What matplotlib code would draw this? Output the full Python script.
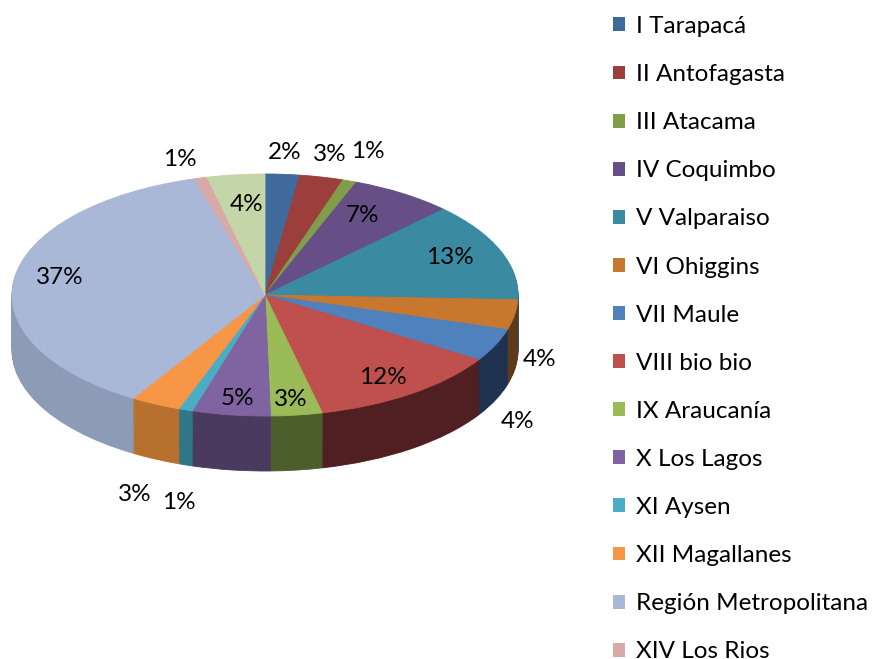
import matplotlib
matplotlib.use("Agg")
import matplotlib.pyplot as plt
import numpy as np
from matplotlib.patches import Patch

plt.rcParams['font.family'] = ['Lato', 'DejaVu Sans']

categories = ["I Tarapacá", "II Antofagasta", "III Atacama", "IV Coquimbo",
              "V Valparaiso", "VI Ohiggins", "VII Maule", "VIII bio bio",
              "IX Araucanía", "X Los Lagos", "XI Aysen", "XII Magallanes",
              "Región Metropolitana", "XIV Los Rios", "XV Arica y Parinacota"]
values = [2.2, 2.8, 0.9, 6.6, 13.2, 4.0, 4.4, 12.4, 3.3, 5.0, 0.9, 3.2, 36.9, 0.8, 3.7]

top_colors = ["#3f6a9b", "#9c3e3b", "#809e49", "#664f86", "#3a8aa1", "#c8772f",
              "#4f81bd", "#c0504d", "#9bbb59", "#8064a2", "#4bacc6", "#f79646",
              "#a9b8d7", "#d9a9a8", "#c4d5a7"]
side_colors = ["#2a4468", "#6b2a28", "#55682f", "#45355a", "#275d6c", "#5e3a1c",
               "#1f3350", "#4f1f21", "#4c5e2b", "#4b3a5f", "#2f7687", "#b8702f",
               "#8d9bb7", "#a07f7e", "#909c7a"]
# label placement: True = inside the top face
inside = [False, False, False, True, True, False, False, True,
          True, True, False, False, True, False, True]
# small pixel nudges (dx right, dy down) mimicking the original label layout
nudge = [(0, 5), (2, 4), (9, -4), (-13, -2), (-3, -6), (-2, 6), (-2, 2), (1, 0),
         (0, 4), (0, 4), (2, 4), (-9, 3), (-5, -9), (-14, 8), (5, 2)]

W, H = 875, 659
CX, CY, RX, RY = 265, 295, 253, 121
DEPTH_PX = 55
DEPTH = DEPTH_PX / RY
FS = 17.5

fig = plt.figure(figsize=(W / 100, H / 100), dpi=100)
ax = fig.add_axes([0, 0, 1, 1])

n_layers = 56
for k in range(n_layers, 0, -1):
    t = DEPTH * k / n_layers
    wedges, _ = ax.pie(values, colors=side_colors, startangle=90, counterclock=False,
                       center=(0, -t), radius=1)
    for w in wedges:
        w.set_edgecolor(w.get_facecolor())
        w.set_linewidth(0.6)

wedges, _ = ax.pie(values, colors=top_colors, startangle=90, counterclock=False,
                   center=(0, 0), radius=1)
for w in wedges:
    w.set_edgecolor(w.get_facecolor())
    w.set_linewidth(0.6)

total = sum(values)
cum = 0.0
GAP = 27     # px between rim and outside label
DROP = 63    # px extra drop for labels in front of the side wall
for v, ins, (ndx, ndy) in zip(values, inside, nudge):
    mid = 90 - 360 * (cum + v / 2) / total
    cum += v
    a = np.deg2rad(mid)
    if ins:
        r = 0.8
        ex, ey = r * RX * np.cos(a), r * RY * np.sin(a) - 4
    else:
        ex, ey = RX * np.cos(a), RY * np.sin(a)        # rim point (px, y up)
        d = np.hypot(np.cos(a), np.sin(a))
        ex += GAP * np.cos(a) / d
        ey += GAP * np.sin(a) / d
        if np.sin(a) < 0:
            ey -= DROP * min(1.0, -np.sin(a) / 0.3)
    x, y = (ex + ndx) / RX, (ey - ndy) / RY
    ax.text(x, y, f"{round(v / total * 100):.0f}%", ha='center', va='center',
            fontsize=FS, color='black')

ax.set_aspect('auto')
ax.set_xlim(-CX / RX, (W - CX) / RX)
ax.set_ylim((CY - H) / RY, CY / RY)
ax.axis('off')

handles = [Patch(facecolor=c, edgecolor='none') for c in top_colors[:14]]
fig.legend(handles, categories[:14], loc='upper left', bbox_to_anchor=(613 / W, 1 - 16 / H),
           frameon=False, fontsize=FS, labelspacing=1.115, handlelength=0.5,
           handleheight=0.5, handletextpad=0.45, borderaxespad=0, borderpad=0)

fig.savefig("out.png", dpi=100, facecolor='white')
